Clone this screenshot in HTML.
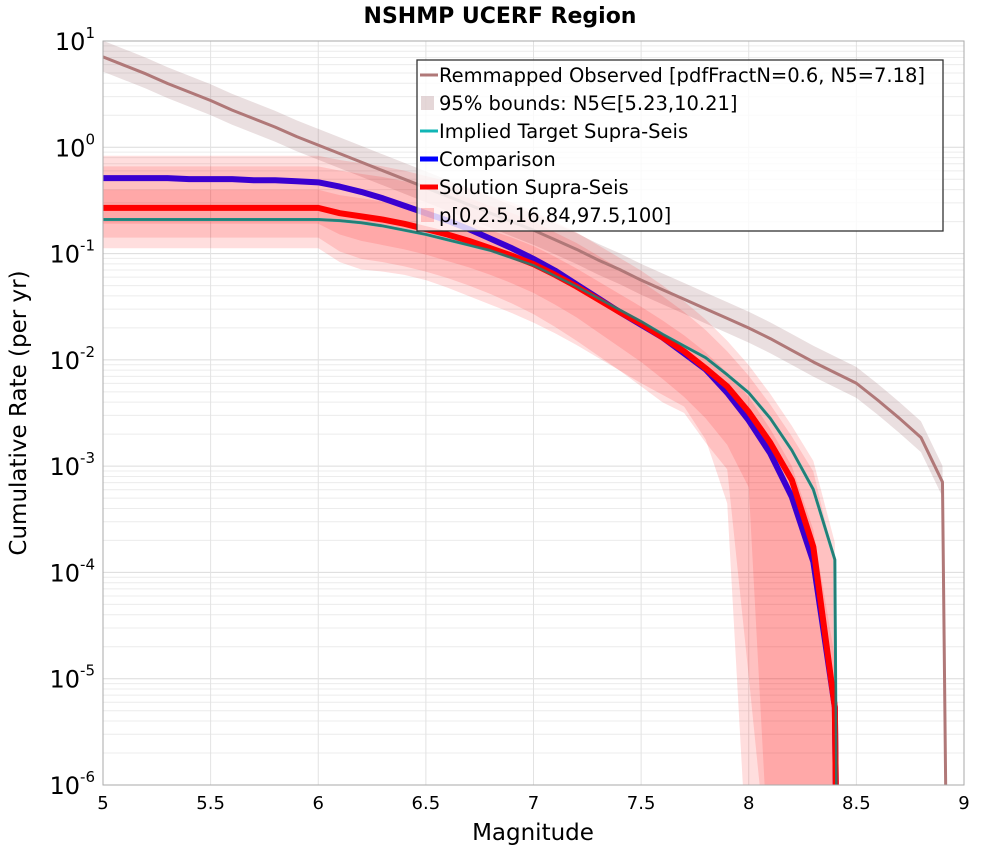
<!DOCTYPE html>
<html><head><meta charset="utf-8"><style>
html,body{margin:0;padding:0;background:#fff;overflow:hidden;font-family:"Liberation Sans","DejaVu Sans",sans-serif}
svg{display:block}
svg text{font-family:"DejaVu Sans","Liberation Sans",sans-serif}
</style></head><body>
<svg id="chart" width="1000" height="850" xmlns="http://www.w3.org/2000/svg">
<defs><clipPath id="plotclip"><rect x="103" y="41" width="861" height="744"/></clipPath></defs>
<text x="500" y="23" text-anchor="middle" font-size="22" font-weight="bold">NSHMP UCERF Region</text>
<g id="grid"></g>
<g id="series" clip-path="url(#plotclip)"></g>
<rect x="103" y="41" width="861" height="744" fill="none" stroke="#aaa" stroke-width="1"/>
<g id="axes"></g>
<text x="533" y="840" text-anchor="middle" font-size="23">Magnitude</text>
<text transform="translate(26,413) rotate(-90)" text-anchor="middle" font-size="23">Cumulative Rate (per yr)</text>
<g id="legend"></g>
</svg>
<script>
const mags = [5.0,5.1,5.2,5.3,5.4,5.5,5.6,5.7,5.8,5.9,6.0,6.1,6.2,6.3,6.4,6.5,6.6,6.7,6.8,6.9,7.0,7.1,7.2,7.3,7.4,7.5,7.6,7.7,7.8,7.9,8.0,8.1,8.2,8.3,8.4,8.41];
const solutionLog = [-0.57,-0.57,-0.57,-0.57,-0.57,-0.57,-0.57,-0.57,-0.57,-0.57,-0.57,-0.62,-0.65,-0.68,-0.72,-0.77,-0.82,-0.88,-0.95,-1.02,-1.10,-1.20,-1.31,-1.43,-1.55,-1.66,-1.79,-1.92,-2.08,-2.25,-2.49,-2.78,-3.13,-3.76,-5.27,-7];
const comparisonLog = [-0.29,-0.29,-0.29,-0.29,-0.30,-0.30,-0.30,-0.31,-0.31,-0.32,-0.33,-0.37,-0.42,-0.48,-0.55,-0.62,-0.69,-0.77,-0.86,-0.95,-1.05,-1.16,-1.29,-1.42,-1.55,-1.67,-1.79,-1.94,-2.09,-2.31,-2.57,-2.88,-3.29,-3.90,-5.27,-7];
const impliedLog = [-0.68,-0.68,-0.68,-0.68,-0.68,-0.68,-0.68,-0.68,-0.68,-0.68,-0.68,-0.69,-0.71,-0.74,-0.78,-0.82,-0.87,-0.92,-0.97,-1.04,-1.11,-1.21,-1.31,-1.42,-1.53,-1.64,-1.76,-1.87,-1.98,-2.14,-2.31,-2.55,-2.85,-3.22,-3.88,-7];
const p100Log = [-0.08,-0.08,-0.08,-0.08,-0.08,-0.08,-0.08,-0.08,-0.08,-0.08,-0.08,-0.12,-0.15,-0.18,-0.22,-0.27,-0.32,-0.38,-0.45,-0.52,-0.60,-0.70,-0.80,-0.92,-1.04,-1.16,-1.30,-1.45,-1.62,-1.82,-2.05,-2.32,-2.62,-2.95,-3.72,-7];
const p975Log = [-0.18,-0.18,-0.18,-0.18,-0.18,-0.18,-0.18,-0.18,-0.18,-0.18,-0.18,-0.22,-0.25,-0.28,-0.32,-0.37,-0.42,-0.48,-0.55,-0.62,-0.70,-0.80,-0.90,-1.02,-1.14,-1.26,-1.40,-1.55,-1.72,-1.92,-2.15,-2.42,-2.72,-3.05,-3.90,-7];
const p84Log = [-0.40,-0.40,-0.40,-0.40,-0.40,-0.40,-0.40,-0.40,-0.40,-0.40,-0.40,-0.45,-0.48,-0.51,-0.55,-0.60,-0.65,-0.71,-0.78,-0.85,-0.93,-1.03,-1.14,-1.26,-1.38,-1.50,-1.63,-1.77,-1.93,-2.12,-2.35,-2.65,-3.00,-3.60,-4.80,-7];
const p16Log = [-0.72,-0.72,-0.72,-0.72,-0.72,-0.72,-0.72,-0.72,-0.72,-0.72,-0.72,-0.82,-0.88,-0.92,-0.96,-1.01,-1.07,-1.13,-1.20,-1.28,-1.37,-1.48,-1.60,-1.74,-1.88,-2.02,-2.18,-2.35,-2.55,-2.80,-3.20,-7,-7,-7,-7,-7];
const p25Log = [-0.85,-0.85,-0.85,-0.85,-0.85,-0.85,-0.85,-0.85,-0.85,-0.85,-0.85,-0.98,-1.05,-1.08,-1.12,-1.17,-1.23,-1.30,-1.38,-1.47,-1.57,-1.69,-1.82,-1.96,-2.10,-2.25,-2.40,-2.50,-2.78,-3.03,-4.98,-7,-7,-7,-7,-7];
const p0Log = [-0.95,-0.95,-0.95,-0.95,-0.95,-0.95,-0.95,-0.95,-0.95,-0.95,-0.95,-1.08,-1.15,-1.17,-1.20,-1.25,-1.32,-1.40,-1.48,-1.56,-1.65,-1.75,-1.86,-1.98,-2.10,-2.22,-2.33,-2.44,-2.75,-3.35,-7,-7,-7,-7,-7,-7];
const obsMags = [5.0,5.1,5.2,5.3,5.4,5.5,5.6,5.7,5.8,5.9,6.0,6.1,6.2,6.3,6.4,6.5,6.6,6.7,6.8,6.9,7.0,7.1,7.2,7.3,7.4,7.5,7.6,7.7,7.8,7.9,8.0,8.1,8.2,8.3,8.4,8.5,8.6,8.7,8.8,8.9,8.92];
const observedLog = [0.85,0.77,0.69,0.60,0.52,0.44,0.35,0.27,0.19,0.10,0.02,-0.06,-0.14,-0.22,-0.30,-0.38,-0.46,-0.54,-0.62,-0.70,-0.78,-0.87,-0.96,-1.06,-1.15,-1.25,-1.34,-1.43,-1.52,-1.61,-1.70,-1.80,-1.91,-2.02,-2.12,-2.22,-2.38,-2.55,-2.73,-3.15,-7];
const N5 = 7.18, N5low = 5.23, N5high = 10.21;
const xTicks = [5,5.5,6,6.5,7,7.5,8,8.5,9];
const yTickExps = [1,0,-1,-2,-3,-4,-5,-6];

const X0=103,X1=964,Y0=41,Y1=785;
const xs = m => X0 + (m-5)/(9-5)*(X1-X0);
const ys = l => Y0 + (1-l)/7*(Y1-Y0);
const NS='http://www.w3.org/2000/svg';
function mk(tag, parent, attrs){const e=document.createElementNS(NS,tag);for(const k in attrs)e.setAttribute(k,attrs[k]);parent.appendChild(e);return e;}
const grid=document.getElementById('grid'), series=document.getElementById('series'), axes=document.getElementById('axes'), legend=document.getElementById('legend');

for(let e=-6;e<1;e++){for(let k=2;k<=9;k++){const yy=ys(e+Math.log10(k));
 const g=mk('line',grid,{x1:X0,x2:X1,y1:yy,y2:yy,stroke:'#ececec','stroke-width':1});
 
 }}
yTickExps.forEach(e=>{const yy=ys(e);const g=mk('line',grid,{x1:X0,x2:X1,y1:yy,y2:yy,stroke:'#dcdcdc','stroke-width':1});
 
 
 const t=mk('text',axes,{x:X0-8,y:yy+9,'text-anchor':'end','font-size':24});
 
 
 t.innerHTML='10<tspan dy="-12" font-size="15">'+e+'</tspan>';});
xTicks.forEach(m=>{const xx=xs(m);const g=mk('line',grid,{x1:xx,x2:xx,y1:Y0,y2:Y1,stroke:'#e2e2e2','stroke-width':1});
 
 
 const t=mk('text',axes,{x:xx,y:809,'text-anchor':'middle','font-size':18});
 
 
 t.textContent=String(m);});

function band(mm, lo, hi, fill, name){
 let d='M'+mm.map((m,i)=>xs(m)+','+ys(hi[i])).join('L');
 for(let i=mm.length-1;i>=0;i--) d+='L'+xs(mm[i])+','+ys(lo[i]);
 const p=mk('path',series,{d:d+'Z',fill:fill,stroke:'none'});
 
 }
function line(mm, vals, color, w, name){
 const p=mk('path',series,{d:'M'+mm.map((m,i)=>xs(m)+','+ys(vals[i])).join('L'),fill:'none',stroke:color,'stroke-width':w,'stroke-linejoin':'round'});
 
 }

const obsLo = observedLog.map(v=>v+Math.log10(N5low/N5));
const obsHi = observedLog.map(v=>v+Math.log10(N5high/N5));
band(obsMags, obsLo, obsHi, 'rgba(150,95,100,0.2)', 'observed-95-band');
band(mags, p0Log, p100Log, 'rgba(255,0,0,0.13)', 'solution-p0-p100-band');
band(mags, p25Log, p975Log, 'rgba(255,0,0,0.13)', 'solution-p2.5-p97.5-band');
band(mags, p16Log, p84Log, 'rgba(255,0,0,0.13)', 'solution-p16-p84-band');
line(obsMags, observedLog, '#b07878', 3, 'observed-line');
line(mags, impliedLog, '#10b5b5', 3, 'implied-target-line');
line(mags, comparisonLog, '#3a00d0', 6, 'comparison-line');
line(mags, solutionLog, '#ff0000', 6, 'solution-line');
line(mags, impliedLog, 'rgba(40,120,110,0.9)', 2.5, 'implied-target-line-overlay');

const lb=mk('rect',legend,{x:417,y:60,width:526,height:171,fill:'rgba(255,255,255,0.8)',stroke:'#333','stroke-width':1.3});


const items=[['Remmapped Observed [pdfFractN=0.6, N5=7.18]','line','#b07878',3],
 ['95% bounds: N5\u2208[5.23,10.21]','box','rgba(150,95,100,0.25)'],
 ['Implied Target Supra-Seis','line','#10b5b5',3],
 ['Comparison','line','#0000ff',5],
 ['Solution Supra-Seis','line','#ff0000',5],
 ['p[0,2.5,16,84,97.5,100]','box','rgba(255,0,0,0.2)']];
items.forEach((it,i)=>{const cy=75+i*28;
 const g=mk('g',legend,{});
 
 
 if(it[1]==='line') mk('line',g,{x1:420,x2:438,y1:cy,y2:cy,stroke:it[2],'stroke-width':it[3]});
 else mk('rect',g,{x:421,y:cy-7,width:13,height:14,fill:it[2]});
 const t=mk('text',g,{x:439,y:cy+7,'font-size':19.5});
 t.textContent=it[0];});
</script>
</body></html>
